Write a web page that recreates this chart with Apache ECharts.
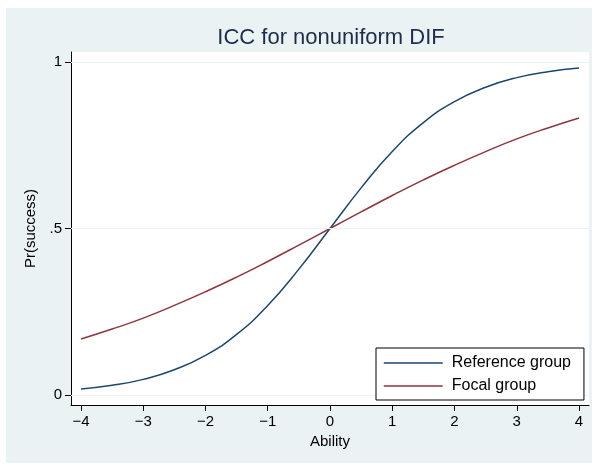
<!DOCTYPE html>
<html>
<head>
<meta charset="utf-8">
<script src="https://cdn.jsdelivr.net/npm/echarts@6/dist/echarts.min.js"></script>
<style>
  html, body { margin: 0; padding: 0; background: #fff; }
  #chart { width: 597px; height: 464px; }
</style>
</head>
<body>
<div id="chart"></div>
<script>
const ability = [-4, -3.5, -3, -2.5, -2, -1.5, -1, -0.5, 0, 0.5, 1, 1.5, 2, 2.5, 3, 3.5, 4]
const referenceGroup = [0.018, 0.029, 0.047, 0.076, 0.119, 0.182, 0.269, 0.378, 0.5, 0.622, 0.731, 0.818, 0.881, 0.924, 0.953, 0.971, 0.982]
const focalGroup = [0.168, 0.198, 0.231, 0.269, 0.310, 0.354, 0.401, 0.450, 0.5, 0.550, 0.599, 0.646, 0.690, 0.731, 0.769, 0.802, 0.832]

const xTicks = [-4, -3, -2, -1, 0, 1, 2, 3, 4]
const yTicks = [0, 0.5, 1]
const yTickLabels = ['0', '.5', '1']

const font = 'Liberation Sans, Arial, Helvetica, sans-serif'
const bg = '#eaf2f3'

const chart = echarts.init(document.getElementById('chart'))

const pairs = vals => ability.map((x, i) => [x, vals[i]])

const option = {
  animation: false,
  backgroundColor: '#fff',
  graphic: [{
    type: 'rect',
    z: -10,
    shape: { x: 6, y: 8, width: 586, height: 455 },
    style: { fill: bg }
  }],
  title: {
    text: 'ICC for nonuniform DIF',
    left: 326,
    top: 22,
    textAlign: 'center',
    textStyle: { fontFamily: font, fontWeight: 'normal', fontSize: 22, color: '#1e2c4c' }
  },
  grid: {
    left: 71, top: 52, right: 8, bottom: 59,
    show: true, backgroundColor: '#fff', borderWidth: 0
  },
  legend: {
    left: 376,
    top: 348,
    z: 10,
    orient: 'vertical',
    itemWidth: 59,
    itemHeight: 16,
    itemGap: 7,
    padding: [7, 13, 6, 7],
    borderColor: '#000',
    borderWidth: 1,
    backgroundColor: '#fff',
    itemStyle: { opacity: 0 },
    lineStyle: { width: 1.5 },
    textStyle: { fontFamily: font, fontSize: 16, lineHeight: 16, color: '#000', padding: [0, 0, 0, 4] },
    data: ['Reference group', 'Focal group']
  },
  xAxis: {
    type: 'value',
    min: -4.16,
    max: 4.16,
    name: 'Ability',
    nameLocation: 'middle',
    nameGap: 24,
    nameTextStyle: { fontFamily: font, fontSize: 15, color: '#000' },
    axisLine: { onZero: false, lineStyle: { color: '#000', width: 1 } },
    axisTick: { show: true, length: 6, customValues: xTicks, lineStyle: { color: '#000' } },
    axisLabel: {
      customValues: xTicks,
      margin: 9,
      fontFamily: font,
      fontSize: 15,
      color: '#000',
      formatter: v => String(v).replace('-', '\u2212')
    },
    splitLine: { show: false }
  },
  yAxis: {
    type: 'value',
    min: -0.03,
    max: 1.03,
    name: 'Pr(success)',
    nameLocation: 'middle',
    nameGap: 31,
    nameTextStyle: { fontFamily: font, fontSize: 15, color: '#000' },
    axisLine: { show: true, onZero: false, lineStyle: { color: '#000', width: 1 } },
    axisTick: { show: true, length: 6, customValues: yTicks, lineStyle: { color: '#000' } },
    axisLabel: {
      customValues: yTicks,
      margin: 9,
      fontFamily: font,
      fontSize: 15,
      color: '#000',
      formatter: v => yTickLabels[yTicks.indexOf(v)]
    },
    splitLine: { show: false }
  },
  series: [
    {
      name: 'Reference group',
      type: 'line',
      smooth: true,
      symbol: 'none',
      data: pairs(referenceGroup),
      lineStyle: { color: '#1a476f', width: 1.5 },
      itemStyle: { color: '#1a476f' },
      markLine: {
        silent: true,
        symbol: 'none',
        label: { show: false },
        lineStyle: { color: bg, width: 1, type: 'solid' },
        data: yTicks.map(v => ({ yAxis: v }))
      },
      z: 3
    },
    {
      name: 'Focal group',
      type: 'line',
      smooth: true,
      symbol: 'none',
      data: pairs(focalGroup),
      lineStyle: { color: '#90353b', width: 1.5 },
      itemStyle: { color: '#90353b' },
      z: 3
    }
  ]
}

chart.setOption(option)
</script>
</body>
</html>
